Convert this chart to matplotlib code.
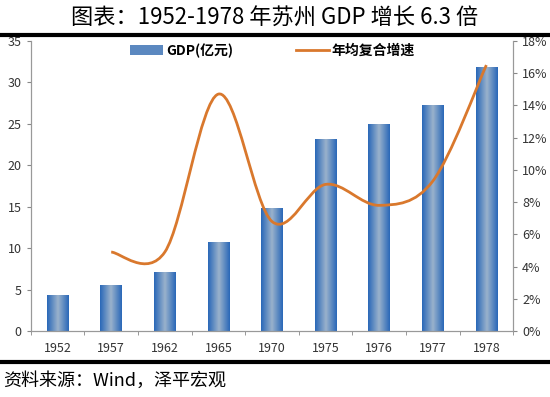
import numpy as np
import matplotlib.pyplot as plt
from matplotlib.path import Path
from matplotlib.patches import PathPatch, Rectangle
from matplotlib.colors import LinearSegmentedColormap
from matplotlib.lines import Line2D

plt.rcParams['font.family'] = ['Noto Sans CJK SC', 'DejaVu Sans']

# datos
years = ['1952', '1957', '1962', '1965', '1970', '1975', '1976', '1977', '1978']
gdp = [4.3, 5.5, 7.1, 10.7, 14.9, 23.2, 25.0, 27.3, 31.9]
growth = [None, 4.9, 4.9, 14.7, 6.8, 9.1, 7.8, 9.3, 16.5]

x = np.arange(len(years))
fig = plt.figure(figsize=(5.5, 3.97), dpi=100)
ax = fig.add_axes([0.056, 0.166, 0.877, 0.731])
ax2 = ax.twinx()

# barras con degradado
cmap = LinearSegmentedColormap.from_list('bar', ['#2a68b8', '#9ab2cc', '#2a68b8'])
bw = 0.4
bars = ax.bar(x, gdp, width=bw, color='none', edgecolor='none', zorder=2)
grad = np.linspace(0, 1, 64).reshape(1, -1)
for b in bars:
    bx, by = b.get_x(), b.get_y()
    im = ax.imshow(grad, cmap=cmap, aspect='auto', zorder=2,
                   extent=[bx, bx + b.get_width(), by, by + b.get_height()])
    im.set_clip_path(b)

ax.set_xlim(-0.5, len(years) - 0.5)
ax.set_ylim(0, 35)
ax.set_yticks(np.arange(0, 36, 5))
ax.set_xticks(x)
ax.set_xticklabels(years)
ax.set_xticks(np.arange(-0.5, len(years), 1), minor=True)
ax.tick_params(axis='x', which='major', length=0, pad=8, labelsize=9, colors='#333333')
ax.tick_params(axis='x', which='minor', length=3, color='#888888')
ax.tick_params(axis='y', length=3, color='#888888', labelsize=9, labelcolor='#333333')

# linea suavizada (curva tipo Excel)
pts = [(i, g) for i, g in enumerate(growth) if g is not None]
px = np.array([p[0] for p in pts], float)
py = np.array([p[1] for p in pts], float)
verts = [(px[0], py[0])]
codes = [Path.MOVETO]
for k in range(len(px) - 1):
    p0 = (px[max(k - 1, 0)], py[max(k - 1, 0)])
    p1 = (px[k], py[k])
    p2 = (px[k + 1], py[k + 1])
    p3 = (px[min(k + 2, len(px) - 1)], py[min(k + 2, len(px) - 1)])
    c1 = (p1[0] + (p2[0] - p0[0]) / 6, p1[1] + (p2[1] - p0[1]) / 6)
    c2 = (p2[0] - (p3[0] - p1[0]) / 6, p2[1] - (p3[1] - p1[1]) / 6)
    verts += [c1, c2, p2]
    codes += [Path.CURVE4] * 3
ax2.add_patch(PathPatch(Path(verts, codes), fill=False, edgecolor='#d9782d', lw=2, zorder=3))
ax2.set_ylim(0, 18)
ax2.set_yticks(np.arange(0, 19, 2))
ax2.set_yticklabels([f'{v}%' for v in range(0, 19, 2)])
ax2.tick_params(axis='y', length=3, color='#888888', labelsize=9, labelcolor='#333333')

for a in (ax, ax2):
    a.spines['top'].set_visible(False)
    for s in ('left', 'right', 'bottom'):
        a.spines[s].set_color('#999999')

# leyenda
handles = [Rectangle((0, 0), 1, 1, facecolor='#5b88c0', edgecolor='none'),
           Line2D([], [], color='#d9782d', lw=2)]
leg = ax.legend(handles, ['GDP(亿元)', '年均复合增速'], loc='upper left',
                bbox_to_anchor=(0.18, 1.035), ncol=2, frameon=False, fontsize=10,
                columnspacing=4.5, handlelength=2.4, handletextpad=0.2)
for t in leg.get_texts():
    t.set_fontweight('bold')

# titulo y fuente
fig.text(0.5, 0.955, '图表：1952-1978 年苏州 GDP 增长 6.3 倍', ha='center', va='center', fontsize=16)
fig.add_artist(Line2D([0.0, 1.0], [0.912, 0.912], color='black', lw=3))
fig.add_artist(Line2D([0.0, 1.0], [0.088, 0.088], color='black', lw=3))
fig.text(0.005, 0.04, '资料来源：Wind，泽平宏观', ha='left', va='center', fontsize=13, style='italic')

fig.savefig('out.png', dpi=100)
